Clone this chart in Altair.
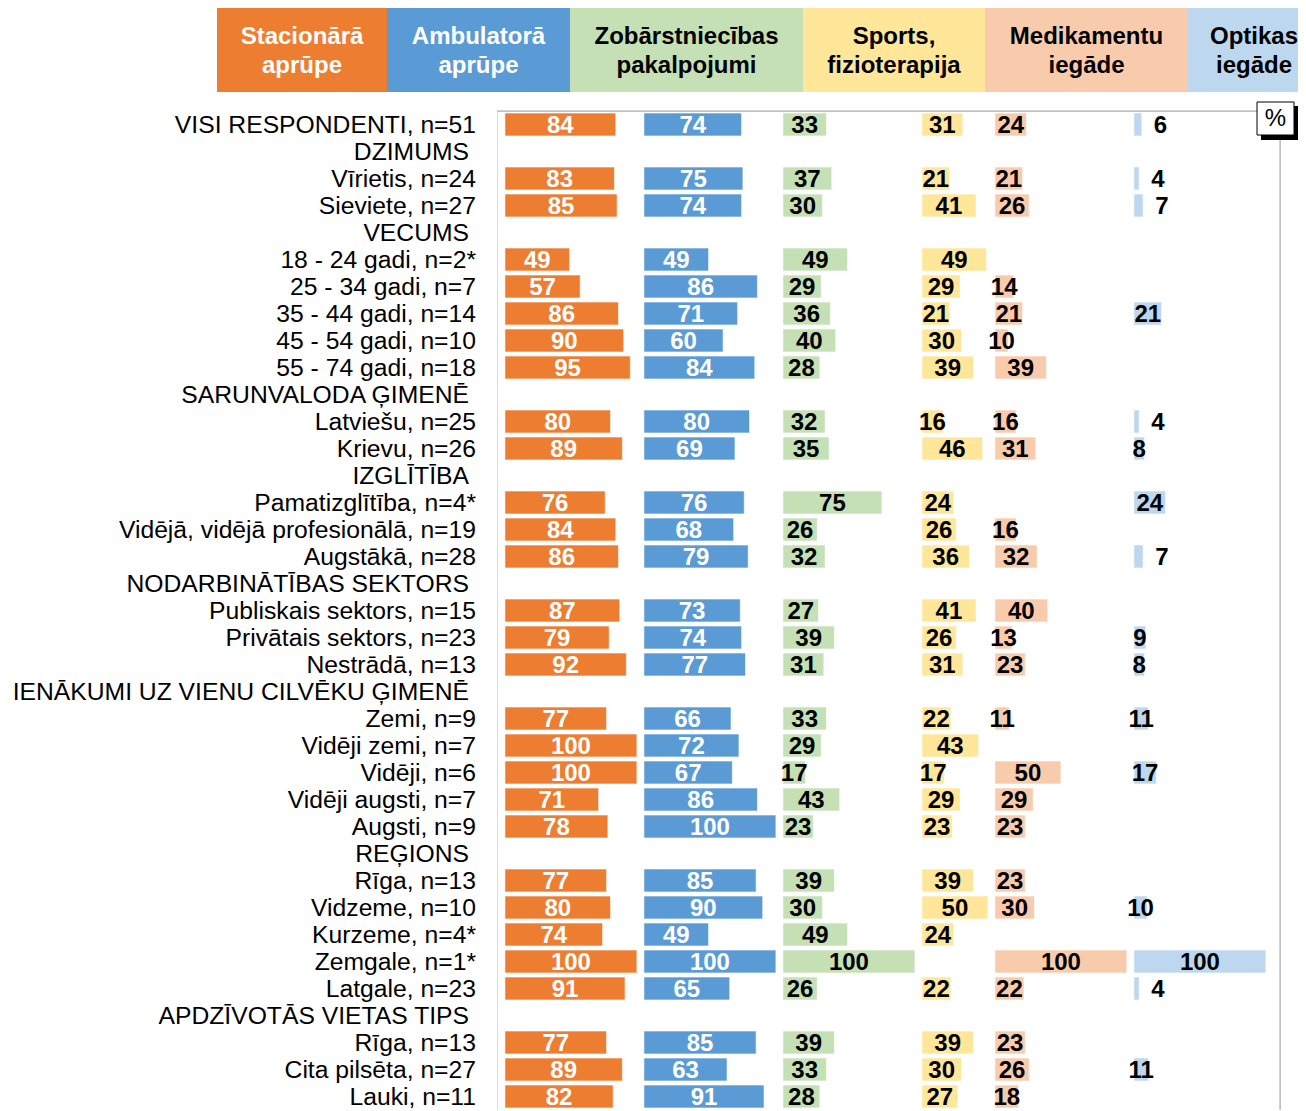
import altair as alt
import pandas as pd

# ---------------- data ----------------
ROW_LABELS = [
    "VISI RESPONDENTI, n=51", "DZIMUMS", "Vīrietis, n=24", "Sieviete, n=27",
    "VECUMS", "18 - 24 gadi, n=2*", "25 - 34 gadi, n=7", "35 - 44 gadi, n=14",
    "45 - 54 gadi, n=10", "55 - 74 gadi, n=18", "SARUNVALODA ĢIMENĒ",
    "Latviešu, n=25", "Krievu, n=26", "IZGLĪTĪBA", "Pamatizglītība, n=4*",
    "Vidējā, vidējā profesionālā, n=19", "Augstākā, n=28", "NODARBINĀTĪBAS SEKTORS",
    "Publiskais sektors, n=15", "Privātais sektors, n=23", "Nestrādā, n=13",
    "IENĀKUMI UZ VIENU CILVĒKU ĢIMENĒ", "Zemi, n=9", "Vidēji zemi, n=7",
    "Vidēji, n=6", "Vidēji augsti, n=7", "Augsti, n=9", "REĢIONS", "Rīga, n=13",
    "Vidzeme, n=10", "Kurzeme, n=4*", "Zemgale, n=1*", "Latgale, n=23",
    "APDZĪVOTĀS VIETAS TIPS", "Rīga, n=13", "Cita pilsēta, n=27", "Lauki, n=11",
]

SERIES = ["Stacionārā aprūpe", "Ambulatorā aprūpe", "Zobārstniecības pakalpojumi",
          "Sports, fizioterapija", "Medikamentu iegāde", "Optikas iegāde"]
HEADER_TEXT = ["Stacionārā\naprūpe", "Ambulatorā\naprūpe", "Zobārstniecības\npakalpojumi",
               "Sports,\nfizioterapija", "Medikamentu\niegāde", "Optikas\niegāde"]

N = None
STACIONARA = [84, N, 83, 85, N, 49, 57, 86, 90, 95, N, 80, 89, N, 76, 84, 86, N, 87, 79, 92,
              N, 77, 100, 100, 71, 78, N, 77, 80, 74, 100, 91, N, 77, 89, 82]
AMBULATORA = [74, N, 75, 74, N, 49, 86, 71, 60, 84, N, 80, 69, N, 76, 68, 79, N, 73, 74, 77,
              N, 66, 72, 67, 86, 100, N, 85, 90, 49, 100, 65, N, 85, 63, 91]
ZOBARST = [33, N, 37, 30, N, 49, 29, 36, 40, 28, N, 32, 35, N, 75, 26, 32, N, 27, 39, 31,
           N, 33, 29, 17, 43, 23, N, 39, 30, 49, 100, 26, N, 39, 33, 28]
SPORTS = [31, N, 21, 41, N, 49, 29, 21, 30, 39, N, 16, 46, N, 24, 26, 36, N, 41, 26, 31,
          N, 22, 43, 17, 29, 23, N, 39, 50, 24, N, 22, N, 39, 30, 27]
MEDIKAMENTI = [24, N, 21, 26, N, N, 14, 21, 10, 39, N, 16, 31, N, N, 16, 32, N, 40, 13, 23,
               N, 11, N, 50, 29, 23, N, 23, 30, N, 100, 22, N, 23, 26, 18]
OPTIKA = [6, N, 4, 7, N, N, N, 21, N, N, N, 4, 8, N, 24, N, 7, N, N, 9, 8,
          N, 11, N, 17, N, N, N, N, 10, N, 100, 4, N, N, 11, N]

VALUES = [STACIONARA, AMBULATORA, ZOBARST, SPORTS, MEDIKAMENTI, OPTIKA]

# ---------------- layout / style ----------------
COLORS = ["#ED7D31", "#5B9BD5", "#C5E0B4", "#FFE699", "#F8CBAD", "#BDD7EE"]
WHITE_TEXT = SERIES[:2]
FONT = "Liberation Sans"
W, H = 783, 999
PX_PER_PCT = 1.32
FIRST_OFFSET = 6.0
GAP = 5.3
HEADER_EDGES_PX = [-280, -110, 73, 306, 488, 691, 823]  # relative to plot left

# panel offsets derived from the maximum of each series
offsets = []
cur = FIRST_OFFSET
for vals in VALUES:
    offsets.append(cur)
    cur += max(v for v in vals if v is not None) + GAP

is_group = [all(VALUES[j][i] is None for j in range(len(SERIES))) for i in range(len(ROW_LABELS))]

recs = []
for j, s in enumerate(SERIES):
    for i, v in enumerate(VALUES[j]):
        if v is None:
            continue
        recs.append({"row": i, "series": s, "value": v, "x0": offsets[j],
                     "x1": offsets[j] + v, "xc": offsets[j] + v / 2.0,
                     "small": v < 8})
df = pd.DataFrame(recs)

rows_df = pd.DataFrame({"row": list(range(len(ROW_LABELS))), "label": ROW_LABELS,
                        "group": is_group})

hdr = pd.DataFrame({
    "series": SERIES,
    "htext": HEADER_TEXT,
    "hx0": [e / PX_PER_PCT for e in HEADER_EDGES_PX[:-1]],
    "hx1": [e / PX_PER_PCT for e in HEADER_EDGES_PX[1:]],
})
hdr["hxc"] = (hdr["hx0"] + hdr["hx1"]) / 2.0

xscale = alt.Scale(domain=[0, W / PX_PER_PCT], nice=False, zero=False)
yscale = alt.Scale(domain=list(range(len(ROW_LABELS))), paddingInner=0.15, paddingOuter=0.075)
cscale = alt.Scale(domain=SERIES, range=COLORS)

base = alt.Chart(df)

bars = base.mark_bar(stroke="white", strokeWidth=1, strokeOpacity=0.6).encode(
    x=alt.X("x0:Q", scale=xscale, axis=None),
    x2="x1:Q",
    y=alt.Y("row:O", scale=yscale,
            axis=alt.Axis(title=None, labels=False, ticks=True, tickSize=7,
                          tickColor="black", domainColor="black", tickBand="extent",
                          grid=False, domainWidth=1, tickWidth=1)),
    color=alt.Color("series:N", scale=cscale, legend=None),
)

txt_color = alt.condition(alt.FieldOneOfPredicate(field="series", oneOf=WHITE_TEXT),
                          alt.value("white"), alt.value("black"))

labels_c = base.transform_filter("!datum.small").mark_text(
    font=FONT, fontSize=24, fontWeight="bold", align="center", baseline="middle", dy=1
).encode(
    x=alt.X("xc:Q", scale=xscale, axis=None),
    y=alt.Y("row:O", scale=yscale, axis=None),
    text=alt.Text("value:Q"),
    color=txt_color,
)

labels_s = base.transform_filter("datum.small").mark_text(
    font=FONT, fontSize=24, fontWeight="bold", align="left", baseline="middle", dx=12, dy=1
).encode(
    x=alt.X("x1:Q", scale=xscale, axis=None),
    y=alt.Y("row:O", scale=yscale, axis=None),
    text=alt.Text("value:Q"),
    color=alt.value("black"),
)

rbase = alt.Chart(rows_df)
row_items = rbase.transform_filter("!datum.group").mark_text(
    font=FONT, fontSize=24.7, align="right", baseline="middle", color="black", dy=1
).encode(
    x=alt.value(-21),
    y=alt.Y("row:O", scale=yscale, axis=None),
    text="label:N",
)
row_groups = rbase.transform_filter("datum.group").mark_text(
    font=FONT, fontSize=24.7, align="right", baseline="middle", color="black", dy=1
).encode(
    x=alt.value(-28),
    y=alt.Y("row:O", scale=yscale, axis=None),
    text="label:N",
)

hbase = alt.Chart(hdr)
hrects = hbase.mark_rect().encode(
    x=alt.X("hx0:Q", scale=xscale, axis=None),
    x2="hx1:Q",
    y=alt.value(-103),
    y2=alt.value(-19),
    color=alt.Color("series:N", scale=cscale, legend=None),
)
htexts = hbase.mark_text(
    font=FONT, fontSize=24, fontWeight="bold", align="center", baseline="middle",
    lineBreak="\n", lineHeight=29
).encode(
    x=alt.X("hxc:Q", scale=xscale, axis=None),
    y=alt.value(-74),
    text="htext:N",
    color=txt_color,
)

one = alt.Chart(pd.DataFrame({"t": ["%"]}))
top_rule = one.mark_rule(color="#A6A6A6", strokeWidth=1).encode(
    x=alt.value(0), x2=alt.value(W), y=alt.value(0))
right_rule = one.mark_rule(color="#A6A6A6", strokeWidth=1).encode(
    x=alt.value(W), y=alt.value(0), y2=alt.value(H + 5))
shadow = one.mark_rect(color="black").encode(
    x=alt.value(W - 19), x2=alt.value(W + 18), y=alt.value(-5), y2=alt.value(29))
pbox = one.mark_rect(fill="white", stroke="black", strokeWidth=1).encode(
    x=alt.value(W - 23), x2=alt.value(W + 14), y=alt.value(-9), y2=alt.value(24))
ptext = one.mark_text(font=FONT, fontSize=24, align="center", baseline="middle").encode(
    x=alt.value(W - 4.5), y=alt.value(8), text="t:N")

chart = alt.layer(
    hrects, htexts, top_rule, right_rule, bars, labels_c, labels_s,
    row_items, row_groups, shadow, pbox, ptext
).properties(
    width=W, height=H,
    autosize=alt.AutoSizeParams(type="none"),
    padding={"left": 489, "top": 103, "right": 18, "bottom": 0},
).configure_view(stroke=None).configure(background="white")

chart.save("out.html", embed_options={"renderer": "svg", "actions": False})
